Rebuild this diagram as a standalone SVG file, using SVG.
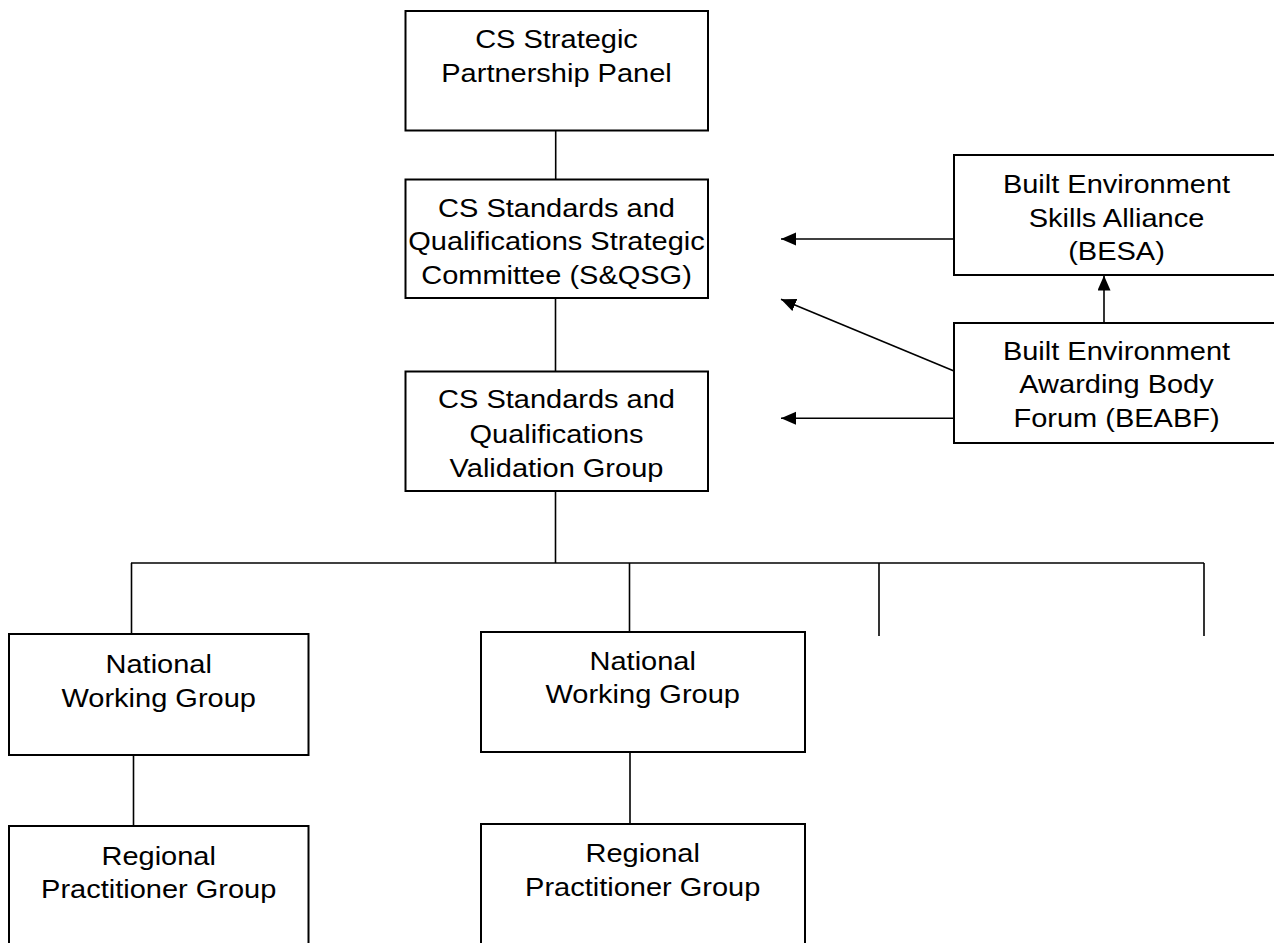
<svg xmlns="http://www.w3.org/2000/svg" width="1274" height="943" viewBox="0 0 1274 943">
<style>
.box{fill:#fff;stroke:#000;stroke-width:2}
.con{fill:none;stroke:#000;stroke-width:1.6}
.t{font-family:"Liberation Sans",Arial,sans-serif;font-size:25px;fill:#000;text-anchor:middle}
</style>
<defs>
<marker id="ah" markerUnits="userSpaceOnUse" markerWidth="16" markerHeight="14" refX="15" refY="6.5" orient="auto">
<path d="M0,0 L15,6.5 L0,13 z" fill="#000"/>
</marker>
</defs>
<rect width="1274" height="943" fill="#fff"/>
<g id="connectors">
<line class="con" x1="555.7" y1="130.5" x2="555.7" y2="179.5"/>
<line class="con" x1="555.5" y1="298" x2="555.5" y2="371.5"/>
<line class="con" x1="555.5" y1="491" x2="555.5" y2="563"/>
<line class="con" x1="131" y1="563" x2="1204" y2="563"/>
<line class="con" x1="131.5" y1="563" x2="131.5" y2="634"/>
<line class="con" x1="629.5" y1="563" x2="629.5" y2="632"/>
<line class="con" x1="879" y1="563" x2="879" y2="636"/>
<line class="con" x1="1204" y1="563" x2="1204" y2="636"/>
<line class="con" x1="133.5" y1="755" x2="133.5" y2="826"/>
<line class="con" x1="630" y1="752" x2="630" y2="824"/>
<line class="con" x1="954" y1="239" x2="781" y2="239" marker-end="url(#ah)"/>
<line class="con" x1="954" y1="371" x2="781" y2="299.3" marker-end="url(#ah)"/>
<line class="con" x1="954" y1="418.3" x2="781" y2="418.3" marker-end="url(#ah)"/>
<line class="con" x1="1104" y1="323" x2="1104" y2="275.5" marker-end="url(#ah)"/>
</g>
<g id="panel">
<rect class="box" x="405.5" y="11" width="302.5" height="119.5"/>
<text class="t" transform="translate(556.5,0) scale(1.16,1)"><tspan x="0" y="48">CS Strategic</tspan><tspan x="0" y="82">Partnership Panel</tspan></text>
</g>
<g id="sqsg">
<rect class="box" x="405.5" y="179.5" width="302.5" height="118.5"/>
<text class="t" transform="translate(556.5,0) scale(1.16,1)"><tspan x="0" y="217">CS Standards and</tspan><tspan x="0" y="250.5">Qualifications Strategic</tspan><tspan x="0" y="284">Committee (S&amp;QSG)</tspan></text>
</g>
<g id="validation">
<rect class="box" x="405.5" y="371.5" width="302.5" height="119.5"/>
<text class="t" transform="translate(556.5,0) scale(1.16,1)"><tspan x="0" y="408.5">CS Standards and</tspan><tspan x="0" y="443">Qualifications</tspan><tspan x="0" y="477">Validation Group</tspan></text>
</g>
<g id="besa">
<rect class="box" x="954" y="155" width="400" height="120"/>
<text class="t" transform="translate(1116.5,0) scale(1.16,1)"><tspan x="0" y="193.5">Built Environment</tspan><tspan x="0" y="227">Skills Alliance</tspan><tspan x="0" y="260">(BESA)</tspan></text>
</g>
<g id="beabf">
<rect class="box" x="954" y="323" width="400" height="120"/>
<text class="t" transform="translate(1116.5,0) scale(1.16,1)"><tspan x="0" y="360">Built Environment</tspan><tspan x="0" y="393.5">Awarding Body</tspan><tspan x="0" y="427">Forum (BEABF)</tspan></text>
</g>
<g id="nwg1">
<rect class="box" x="9" y="634" width="299.5" height="121"/>
<text class="t" transform="translate(158.7,0) scale(1.16,1)"><tspan x="0" y="673.5">National</tspan><tspan x="0" y="707">Working Group</tspan></text>
</g>
<g id="nwg2">
<rect class="box" x="481" y="632" width="324" height="120"/>
<text class="t" transform="translate(642.7,0) scale(1.16,1)"><tspan x="0" y="670">National</tspan><tspan x="0" y="703.5">Working Group</tspan></text>
</g>
<g id="rpg1">
<rect class="box" x="9" y="826" width="299.5" height="140"/>
<text class="t" transform="translate(158.7,0) scale(1.16,1)"><tspan x="0" y="865">Regional</tspan><tspan x="0" y="898.5">Practitioner Group</tspan></text>
</g>
<g id="rpg2">
<rect class="box" x="481" y="824" width="324" height="140"/>
<text class="t" transform="translate(642.7,0) scale(1.16,1)"><tspan x="0" y="862">Regional</tspan><tspan x="0" y="896">Practitioner Group</tspan></text>
</g>
</svg>
